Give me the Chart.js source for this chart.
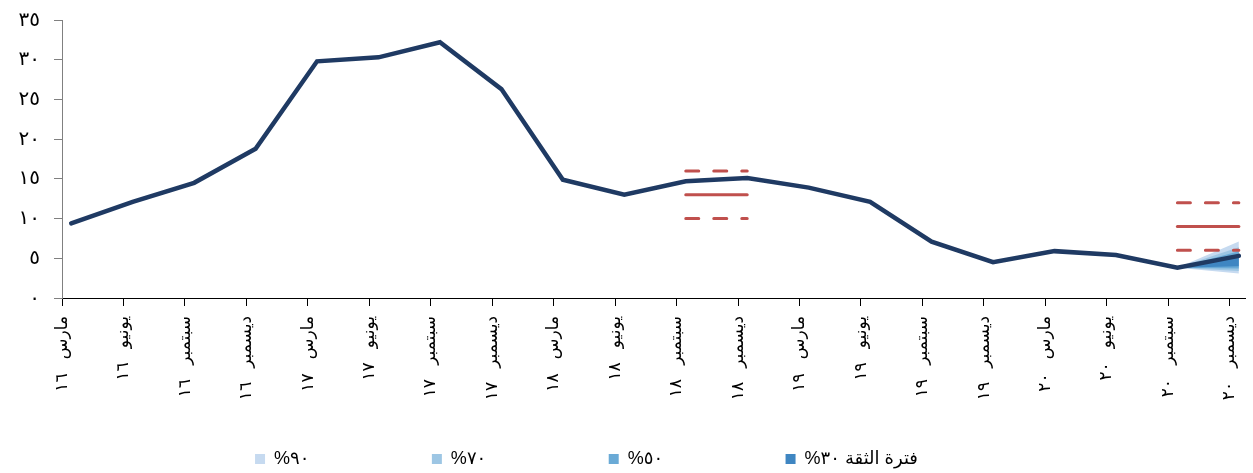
<!DOCTYPE html>
<html lang="ar">
<head>
<meta charset="utf-8">
<script src="https://cdn.jsdelivr.net/npm/chart.js@4"></script>
<style>
  html, body { margin: 0; padding: 0; background: #fff; }
  #wrap { width: 1253px; height: 473px; position: relative; }
</style>
</head>
<body>
<div id="wrap"><canvas id="chart"></canvas></div>
<script>
// ── data ──────────────────────────────────────────────
const quarterLabels = [
  'مارس   ١٦', 'يونيو   ١٦', 'سبتمبر   ١٦', 'ديسمبر   ١٦',
  'مارس   ١٧', 'يونيو   ١٧', 'سبتمبر   ١٧', 'ديسمبر   ١٧',
  'مارس   ١٨', 'يونيو   ١٨', 'سبتمبر   ١٨', 'ديسمبر   ١٨',
  'مارس   ١٩', 'يونيو   ١٩', 'سبتمبر   ١٩', 'ديسمبر   ١٩',
  'مارس   ٢٠', 'يونيو   ٢٠', 'سبتمبر   ٢٠', 'ديسمبر   ٢٠'
];
const yTickLabels = ['٠', '٥', '١٠', '١٥', '٢٠', '٢٥', '٣٠', '٣٥'];

// main series (index = quarter)
const rateValues = [9.4, 12.1, 14.5, 18.8, 29.8, 30.3, 32.2, 26.3, 14.9, 13.0,
                    14.7, 15.1, 13.9, 12.1, 7.1, 4.5, 5.9, 5.4, 3.8, 5.3];

// red target ranges
const range2018X = [10, 11];
const range2018Mid = [13, 13];
const range2018Hi = [16, 16];
const range2018Lo = [10, 10];
const range2020X = [18, 19];
const range2020Mid = [9, 9];
const range2020Hi = [12, 12];
const range2020Lo = [6, 6];

// fan chart (confidence bands) from سبتمبر ٢٠ to ديسمبر ٢٠
const fanX = [18, 19];
const fan90Lo = [3.8, 3.1], fan90Hi = [3.8, 7.1];
const fan70Lo = [3.8, 3.4], fan70Hi = [3.8, 6.4];
const fan50Lo = [3.8, 3.7], fan50Hi = [3.8, 5.9];
const fan30Lo = [3.8, 4.0], fan30Hi = [3.8, 5.5];
const bandLabels = ['فترة الثقة ٣٠%', '٥٠%', '٧٠%', '٩٠%'];

// ── helpers ───────────────────────────────────────────
const pts = (xs, ys) => ys.map((y, i) => ({ x: xs[i], y }));
const NAVY = '#1f3a63';
const RED = '#c0504d';

function redLine(xs, ys, dashed) {
  return {
    data: pts(xs, ys), borderColor: RED, borderWidth: 3,
    borderDash: dashed ? [13, 15] : [], borderCapStyle: 'round',
    pointRadius: 0, fill: false, order: 1, label: ''
  };
}

const datasets = [
  { // main line
    label: '', data: pts(rateValues.map((_, i) => i), rateValues),
    borderColor: NAVY, borderWidth: 4.5, borderCapStyle: 'round',
    pointRadius: 0, fill: false, order: 0
  },
  redLine(range2018X, range2018Mid, false),
  redLine(range2018X, range2018Hi, true),
  redLine(range2018X, range2018Lo, true),
  redLine(range2020X, range2020Mid, false),
  redLine(range2020X, range2020Hi, true),
  redLine(range2020X, range2020Lo, true)
];

// bands: lower edge (no fill) then upper edge filled down to it
[
  [fan90Lo, fan90Hi, '#c6daf0', bandLabels[3], 9],
  [fan70Lo, fan70Hi, '#9dc6e4', bandLabels[2], 7],
  [fan50Lo, fan50Hi, '#6aaad6', bandLabels[1], 5],
  [fan30Lo, fan30Hi, '#3f86c2', bandLabels[0], 3]
].forEach(([lo, hi, color, label, ord]) => {
  datasets.push({ label: '', data: pts(fanX, lo), borderWidth: 0, pointRadius: 0,
                  fill: false, order: ord + 1 });
  const loIndex = datasets.length - 1;
  datasets.push({ label, data: pts(fanX, hi), borderWidth: 0, pointRadius: 0,
                  backgroundColor: color, borderColor: color,
                  fill: { target: loIndex }, order: ord, inLegend: true });
});

// ── chart ─────────────────────────────────────────────
Chart.defaults.font.family = 'Arial, "DejaVu Sans", sans-serif';
Chart.defaults.color = '#000';

const legendGap = '\u2003'.repeat(6) + '\u2005';

new Chart(document.getElementById('chart'), {
  type: 'line',
  data: { datasets },
  options: {
    responsive: true,
    maintainAspectRatio: false,
    animation: false,
    layout: { padding: { top: 20, right: 8, left: 0, bottom: -5 } },
    plugins: {
      tooltip: { enabled: false },
      legend: {
        position: 'bottom',
        textDirection: 'rtl',
        labels: {
          boxWidth: 10, boxHeight: 10, padding: 10,
          font: { size: 18 },
          generateLabels(chart) {
            const items = Chart.defaults.plugins.legend.labels.generateLabels(chart)
              .filter(it => chart.data.datasets[it.datasetIndex].inLegend)
              .reverse();
            return items.map((it, i) => ({
              ...it,
              lineWidth: 0,
              text: (i < items.length - 1 ? legendGap : '\u2003'.repeat(4)) + it.text
            }));
          }
        }
      }
    },
    scales: {
      x: {
        type: 'linear',
        min: -0.15,
        max: 19.1,
        afterBuildTicks: s => { s.ticks = quarterLabels.map((_, i) => ({ value: i - 0.15 })); },
        afterFit: s => { s.height = 142; s.paddingRight = 8; s.paddingLeft = 0; },
        grid: { drawOnChartArea: false, tickLength: 8, color: '#000' },
        border: { color: '#000', width: 1 },
        ticks: {
          autoSkip: false, minRotation: 90, maxRotation: 90, padding: 10,
          font: { size: 17 },
          callback: (v, i) => quarterLabels[i]
        }
      },
      y: {
        min: 0,
        max: 35,
        afterFit: s => { s.width = 62; s.paddingTop = 0; s.paddingBottom = 0; },
        grid: { drawOnChartArea: false, tickLength: 8, color: '#808080' },
        border: { color: '#808080', width: 1 },
        ticks: {
          stepSize: 5, padding: 14,
          font: { size: 20 },
          callback: v => yTickLabels[v / 5]
        }
      }
    }
  }
});
</script>
</body>
</html>
